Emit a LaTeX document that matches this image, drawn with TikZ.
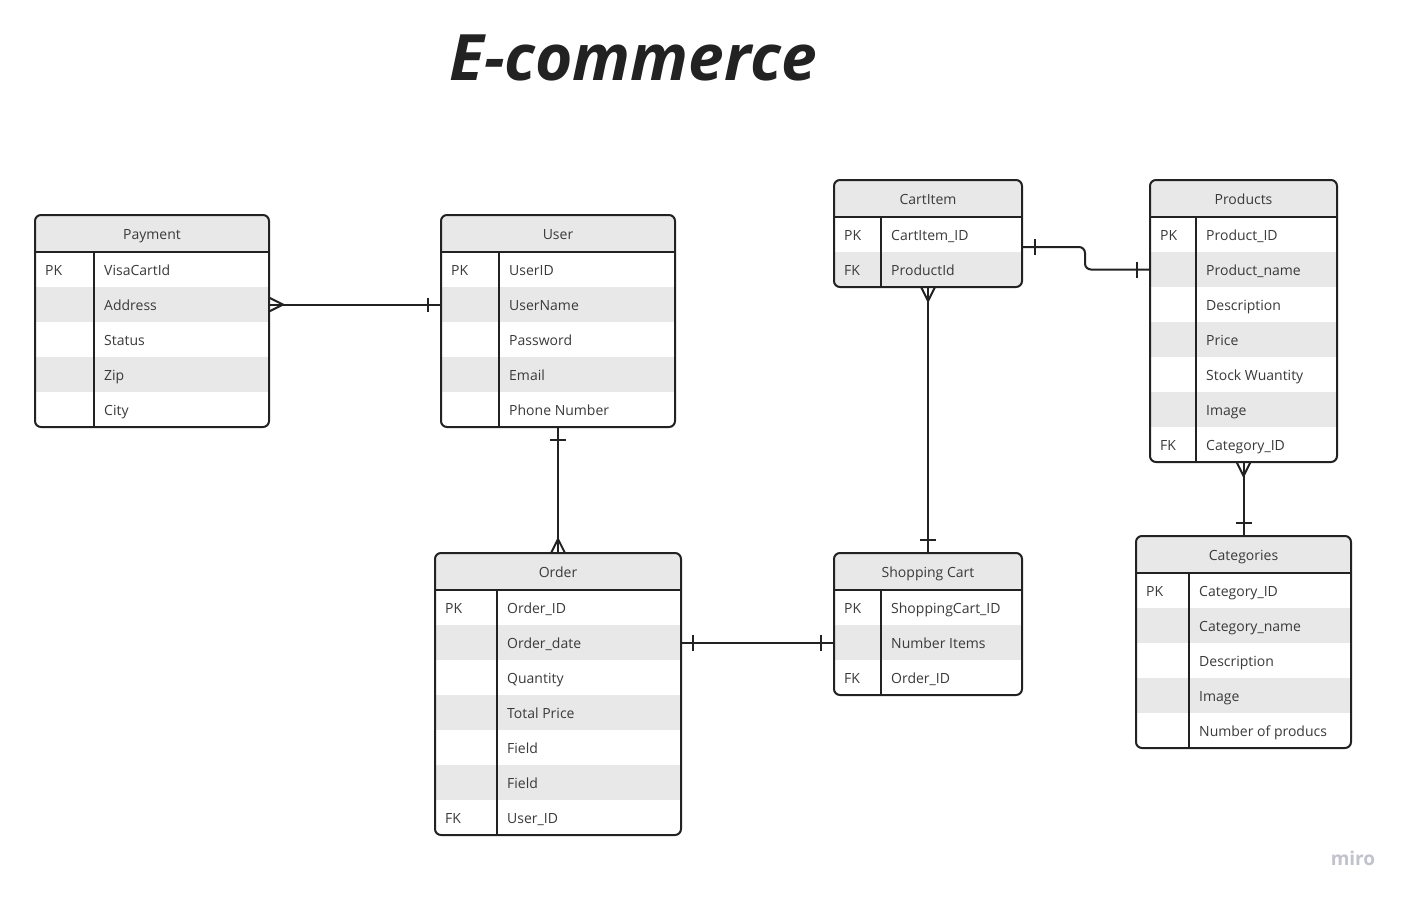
\documentclass[tikz,border=0pt]{standalone}
\usepackage{fontspec}
\setmainfont{Open Sans}
\definecolor{linec}{HTML}{222222}
\definecolor{rowgray}{HTML}{E8E8E8}
\definecolor{txtc}{HTML}{3A3A3A}
\definecolor{mirogray}{HTML}{C2C2CC}
\tikzset{
  tbl/.style={draw=linec, line width=2pt, rounded corners=6pt, inner sep=0pt, outer sep=0pt, anchor=north west},
  celltxt/.style={anchor=base west, inner sep=0pt, text=txtc, font=\fontsize{14}{16}\selectfont},
  headtxt/.style={anchor=base, inner sep=0pt, text=txtc, font=\fontsize{14}{16}\selectfont},
  conn/.style={line width=2pt, draw=linec},
  tbline/.style={line width=2pt, draw=linec}
}
% #1 name, #2 left, #3 top, #4 right, #5 divider x, #6 title, #7 rows
\newcommand\ertab[7]{%
  \foreach \k/\v [count=\i] in {#7} {\xdef\nrows{\i}}%
  \pgfmathsetmacro\ybot{#3+37+35*\nrows}%
  \begin{scope}
    \clip[rounded corners=6pt] (#2,#3) rectangle (#4,\ybot);
    \fill[rowgray] (#2,#3) rectangle (#4,#3+37);
    \foreach \k/\v [count=\i] in {#7} {%
      \pgfmathsetmacro\ya{#3+37+35*(\i-1)}%
      \ifodd\i\else\fill[rowgray] (#2,\ya) rectangle (#4,\ya+35);\fi
    }%
  \end{scope}
  \node[headtxt] (#1-t) at ({(#2+#4)/2},#3+24.5) {#6};
  \foreach \k/\v [count=\i] in {#7} {%
    \pgfmathsetmacro\ya{#3+37+35*(\i-1)}%
    \node[celltxt] (#1-k\i) at (#2+10,\ya+23.5) {\k};
    \node[celltxt] (#1-f\i) at (#5+10,\ya+23.5) {\v};
  }%
  \draw[tbline] (#2,#3+37) -- (#4,#3+37);
  \draw[tbline] (#5,#3+37) -- (#5,\ybot);
  \node[tbl, minimum width={#4pt-#2pt}, minimum height={\ybot pt-#3pt}] (#1) at (#2,#3) {};
}
\begin{document}
\begin{tikzpicture}[x=1pt,y=-1pt]
\useasboundingbox (0,0) rectangle (1408,898);
\fill[white] (0,0) rectangle (1408,898);

\node[text=linec, font=\fontsize{64}{70}\selectfont\bfseries\itshape] (title) at (633,58) {E-commerce};

\ertab{pay}{35}{215}{269}{94}{Payment}{PK/VisaCartId,{}/Address,{}/Status,{}/Zip,{}/City}
\ertab{usr}{441}{215}{675}{499}{User}{PK/UserID,{}/UserName,{}/Password,{}/Email,{}/Phone Number}
\ertab{cart}{834}{180}{1022}{881}{CartItem}{PK/CartItem\_ID,FK/ProductId}
\ertab{prod}{1150}{180}{1337}{1196}{Products}{PK/Product\_ID,{}/Product\_name,{}/Description,{}/Price,{}/Stock Wuantity,{}/Image,FK/Category\_ID}
\ertab{cat}{1136}{536}{1351}{1189}{Categories}{PK/Category\_ID,{}/Category\_name,{}/Description,{}/Image,{}/Number of producs}
\ertab{ord}{435}{553}{681}{497}{Order}{PK/Order\_ID,{}/Order\_date,{}/Quantity,{}/Total Price,{}/Field,{}/Field,FK/User\_ID}
\ertab{shop}{834}{553}{1022}{881}{Shopping Cart}{PK/ShoppingCart\_ID,{}/Number Items,FK/Order\_ID}

% Payment -- User
\coordinate (c1a) at (pay.east |- pay.north);
\coordinate (c1a) at ([yshift=-89.5pt]c1a);
\coordinate (c1b) at (usr.west |- c1a);
\draw[conn] (c1a) -- (c1b);
\draw[conn] ([yshift=7pt]c1a) -- ++(14,7) -- ([yshift=-7pt]c1a);
\draw[conn] ([xshift=-13pt,yshift=7pt]c1b) -- ([xshift=-13pt,yshift=-7pt]c1b);

% User -- Order
\draw[conn] (usr.south) -- (ord.north);
\draw[conn] ([xshift=-8pt,yshift=-13pt]usr.south) -- ([xshift=8pt,yshift=-13pt]usr.south);
\draw[conn] ([xshift=-7pt]ord.north) -- ++(7,-14) -- ([xshift=7pt]ord.north);

% CartItem -- Products
\coordinate (c3a) at ([yshift=-13.5pt]cart.east);
\coordinate (c3b) at ([yshift=-89.5pt]prod.north west);
\draw[conn, rounded corners=6pt] (c3a) -- ++(63,0) |- (c3b);
\draw[conn] ([xshift=13pt,yshift=8pt]c3a) -- ([xshift=13pt,yshift=-8pt]c3a);
\draw[conn] ([xshift=-13pt,yshift=8pt]c3b) -- ([xshift=-13pt,yshift=-8pt]c3b);

% CartItem -- Shopping Cart
\draw[conn] (cart.south) -- (shop.north);
\draw[conn] ([xshift=-7pt]cart.south) -- ++(7,14) -- ([xshift=7pt]cart.south);
\draw[conn] ([xshift=-8pt,yshift=13pt]shop.north) -- ([xshift=8pt,yshift=13pt]shop.north);

% Order -- Shopping Cart
\coordinate (c5a) at ([yshift=-89.5pt]ord.north east);
\coordinate (c5b) at (shop.west |- c5a);
\draw[conn] (c5a) -- (c5b);
\draw[conn] ([xshift=12pt,yshift=8pt]c5a) -- ([xshift=12pt,yshift=-8pt]c5a);
\draw[conn] ([xshift=-13pt,yshift=8pt]c5b) -- ([xshift=-13pt,yshift=-8pt]c5b);

% Products -- Categories
\draw[conn] (prod.south) -- (cat.north);
\draw[conn] ([xshift=-7pt]prod.south) -- ++(7,14) -- ([xshift=7pt]prod.south);
\draw[conn] ([xshift=-8pt,yshift=13pt]cat.north) -- ([xshift=8pt,yshift=13pt]cat.north);

\node[text=mirogray, font=\fontsize{19}{20}\selectfont\bfseries] (miro) at (1353,858) {miro};
\end{tikzpicture}
\end{document}
